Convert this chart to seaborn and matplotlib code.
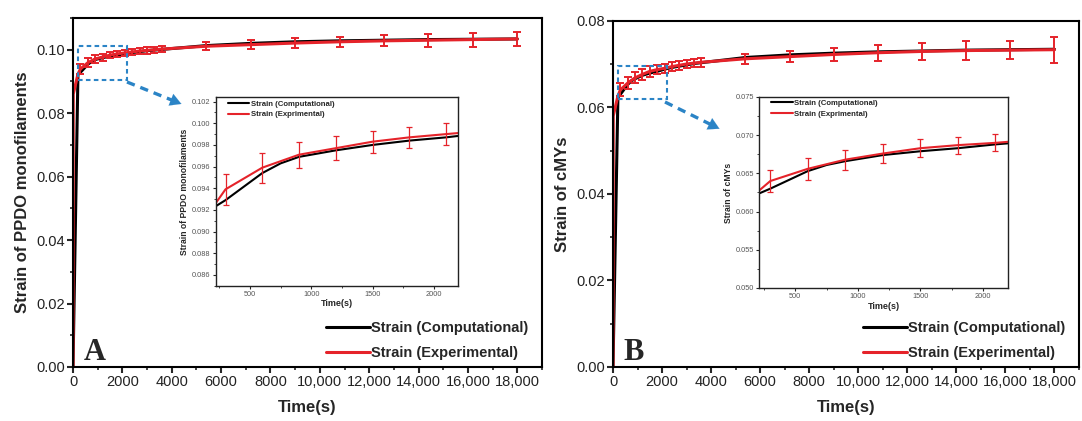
import numpy as np
import matplotlib
matplotlib.use("Agg")
import matplotlib.pyplot as plt
import seaborn as sns
import pandas as pd
from matplotlib.patches import Rectangle
from matplotlib.ticker import MultipleLocator, FuncFormatter

# ---------------- data ----------------
t_comp = [0, 200, 300, 600, 750, 900, 1200, 1500, 1800, 2100, 2400, 2700, 3000, 3300, 3600,
          5400, 7200, 9000, 10800, 12600, 14400, 16200, 18000]
t_exp = [0, 10, 200, 300, 600, 900, 1200, 1500, 1800, 2100, 2400, 2700, 3000, 3300, 3600,
         5400, 7200, 9000, 10800, 12600, 14400, 16200, 18000]
t_err = [300, 600, 900, 1200, 1500, 1800, 2100, 2400, 2700, 3000, 3300, 3600,
         5400, 7200, 9000, 10800, 12600, 14400, 16200, 18000]

# Panel A: PPDO monofilaments
A_comp = [0, 0.0922, 0.0929, 0.0954, 0.0963, 0.0969, 0.0975, 0.0980, 0.0984, 0.0987, 0.0991,
          0.0994, 0.0997, 0.0999, 0.1001, 0.1013, 0.1020, 0.1025, 0.1028, 0.1030, 0.1032,
          0.1033, 0.1034]
A_exp = [0, 0.0860, 0.0923, 0.0939, 0.0959, 0.0971, 0.0977, 0.0983, 0.0987, 0.0990, 0.0993,
         0.0996, 0.0998, 0.1000, 0.1002, 0.1011, 0.1016, 0.1021, 0.1025, 0.1028, 0.1030,
         0.1032, 0.1034]
A_err = [0.00146, 0.0014, 0.0012, 0.0011, 0.0010, 0.0010, 0.0010, 0.0010, 0.0010, 0.0010,
         0.0010, 0.0010, 0.0013, 0.0014, 0.0016, 0.0016, 0.0017, 0.0021, 0.0022, 0.0023]

# Panel B: cMYs
B_comp = [0, 0.0623, 0.0630, 0.0653, 0.0661, 0.0666, 0.0674, 0.0679, 0.0683, 0.0688, 0.0692,
          0.0695, 0.0698, 0.0701, 0.0703, 0.0715, 0.0721, 0.0725, 0.0728, 0.0730, 0.0732,
          0.0733, 0.0734]
B_exp = [0, 0.0580, 0.0626, 0.0640, 0.0656, 0.0668, 0.0676, 0.0683, 0.0687, 0.0690, 0.0694,
         0.0697, 0.0700, 0.0702, 0.0704, 0.0712, 0.0717, 0.0722, 0.0726, 0.0729, 0.0731,
         0.0732, 0.0733]
B_err = [0.0015, 0.0014, 0.0013, 0.0012, 0.0012, 0.0011, 0.0011, 0.0010, 0.0010, 0.0010,
         0.0010, 0.0010, 0.0011, 0.0012, 0.0016, 0.0018, 0.0020, 0.0021, 0.0020, 0.0030]

labels_main = ["Strain (Computational)", "Strain (Experimental)"]
labels_inset = ["Strain (Computational)", "Strain (Exprimental)"]
ylabel_A = "Strain of PPDO monofilaments"
ylabel_B = "Strain of cMYs"
xlabel = "Time(s)"

RED = "#e5232a"
BLUE = "#2b84c6"

sns.set_style("ticks")
plt.rcParams['font.family'] = ['Liberation Sans', 'DejaVu Sans']

fig = plt.figure(figsize=(10.82, 4.21), dpi=100)
W, H = 1082, 421

def px_axes(l, t, r, b):
    return fig.add_axes([l / W, 1 - b / H, (r - l) / W, (b - t) / H])

def xfmt(v, pos):
    v = int(round(v))
    return f"{v:,}" if v >= 10000 else str(v)

def style_main(ax, ylim, ylab):
    for s in ax.spines.values():
        s.set_linewidth(1.5)
        s.set_color("black")
    ax.set_xlim(0, 19000)
    ax.set_ylim(*ylim)
    ax.xaxis.set_major_locator(MultipleLocator(2000))
    ax.xaxis.set_minor_locator(MultipleLocator(1000))
    ax.yaxis.set_major_locator(MultipleLocator(0.02))
    ax.yaxis.set_minor_locator(MultipleLocator(0.01))
    ax.xaxis.set_major_formatter(FuncFormatter(xfmt))
    ax.yaxis.set_major_formatter(FuncFormatter(lambda v, p: f"{v:.2f}"))
    ax.tick_params(which="major", direction="out", length=4, width=1.5, labelsize=10.5,
                   labelcolor="#222222", pad=2)
    ax.tick_params(which="minor", direction="out", length=2.5, width=1.2)
    ax.set_xlabel(xlabel, fontsize=12, fontweight="bold", labelpad=8)
    ax.set_ylabel(ylab, fontsize=12, fontweight="bold", labelpad=4)

def style_inset(ax, xlim, ylim, ymaj, yfmt, ylab):
    for s in ax.spines.values():
        s.set_linewidth(1.0)
        s.set_color("#222222")
    ax.set_xlim(*xlim)
    ax.set_ylim(*ylim)
    ax.xaxis.set_major_locator(MultipleLocator(500))
    ax.xaxis.set_minor_locator(MultipleLocator(250))
    ax.yaxis.set_major_locator(MultipleLocator(ymaj))
    ax.yaxis.set_minor_locator(MultipleLocator(ymaj / 2))
    ax.yaxis.set_major_formatter(FuncFormatter(lambda v, p: yfmt.format(v)))
    ax.tick_params(which="major", direction="out", length=2.2, width=0.8, labelsize=5.3,
                   labelcolor="#555555", pad=1.5)
    ax.tick_params(which="minor", direction="out", length=1.3, width=0.6)
    ax.set_xlabel(xlabel, fontsize=6.5, fontweight="bold", labelpad=1)
    ax.set_ylabel(ylab, fontsize=6.2, fontweight="bold", labelpad=2)

def draw_series(ax, comp, exp, err, lw, elw, cap, legend_labels):
    sns.lineplot(x=t_comp, y=comp, ax=ax, color="black", lw=lw, label=legend_labels[0],
                 sort=False, estimator=None)
    sns.lineplot(x=t_exp, y=exp, ax=ax, color=RED, lw=lw, label=legend_labels[1],
                 sort=False, estimator=None)
    ex = dict(zip(t_exp, exp))
    ax.errorbar(t_err, [ex[t] for t in t_err], yerr=err, fmt="none", ecolor=RED,
                elinewidth=elw, capsize=cap, capthick=elw, zorder=5)

panels = [
    dict(rect=(73, 18, 542, 367), ylim=(0, 0.11), comp=A_comp, exp=A_exp, err=A_err,
         ylab=ylabel_A, letter="A",
         inset=(215.7, 97.3, 458.3, 285.7), ixlim=(220, 2200), iylim=(0.085, 0.1024),
         iymaj=0.002, box=(220, 2200, 0.0905, 0.1012),
         arrow=((127, 82), (184, 105))),
    dict(rect=(613, 20.7, 1079, 367), ylim=(0, 0.08), comp=B_comp, exp=B_exp, err=B_err,
         ylab=ylabel_B, letter="B",
         inset=(759, 97, 1008, 288), ixlim=(210, 2200), iylim=(0.050, 0.075),
         iymaj=0.005, box=(200, 2200, 0.0618, 0.0695),
         arrow=((665, 102), (722, 130))),
]

for p in panels:
    ax = px_axes(*p["rect"])
    draw_series(ax, p["comp"], p["exp"], p["err"], 2.2, 1.4, 3.2, labels_main)
    style_main(ax, p["ylim"], p["ylab"])
    ax.legend(loc="lower right", bbox_to_anchor=(0.99, -0.005), frameon=False,
              prop=dict(size=10.5, weight="bold"), handlelength=3.0,
              handletextpad=0.1, labelspacing=0.75, borderaxespad=0.2)
    ax.text(0.022, 0.0, p["letter"], transform=ax.transAxes, fontsize=22,
            fontweight="bold", family="Liberation Serif", ha="left", va="bottom")
    # zoom box
    x0, x1, y0, y1 = p["box"]
    ax.add_patch(Rectangle((x0, y0), x1 - x0, y1 - y0, fill=False, ec=BLUE, lw=1.5,
                           ls=(0, (2.2, 1.6)), zorder=6))
    # dashed arrow
    (tx, ty), (hx, hy) = p["arrow"]
    fx = lambda v: v / W
    fy = lambda v: 1 - v / H
    fig.add_artist(plt.Line2D([fx(tx), fx(hx - (hx - tx) * 0.12)],
                              [fy(ty), fy(hy - (hy - ty) * 0.12)],
                              transform=fig.transFigure, color=BLUE, lw=2.4,
                              ls=(0, (2.5, 1.8))))
    ax.annotate("", xy=(fx(hx), fy(hy)), xycoords="figure fraction",
                xytext=(fx(hx - (hx - tx) * 0.2), fy(hy - (hy - ty) * 0.2)),
                textcoords="figure fraction",
                arrowprops=dict(arrowstyle="-|>,head_length=0.8,head_width=0.45",
                                color=BLUE, lw=0.1))
    # inset
    ia = px_axes(*p["inset"])
    draw_series(ia, p["comp"], p["exp"], p["err"], 1.5, 0.9, 2.0, labels_inset)
    style_inset(ia, p["ixlim"], p["iylim"], p["iymaj"], "{:.3f}", p["ylab"])
    ia.legend(loc="upper left", bbox_to_anchor=(0.03, 1.01), frameon=False,
              prop=dict(size=5.6, weight="bold"), handlelength=2.8, handletextpad=0.15,
              labelspacing=0.45, borderaxespad=0.2)

fig.savefig("out.png", dpi=100)
